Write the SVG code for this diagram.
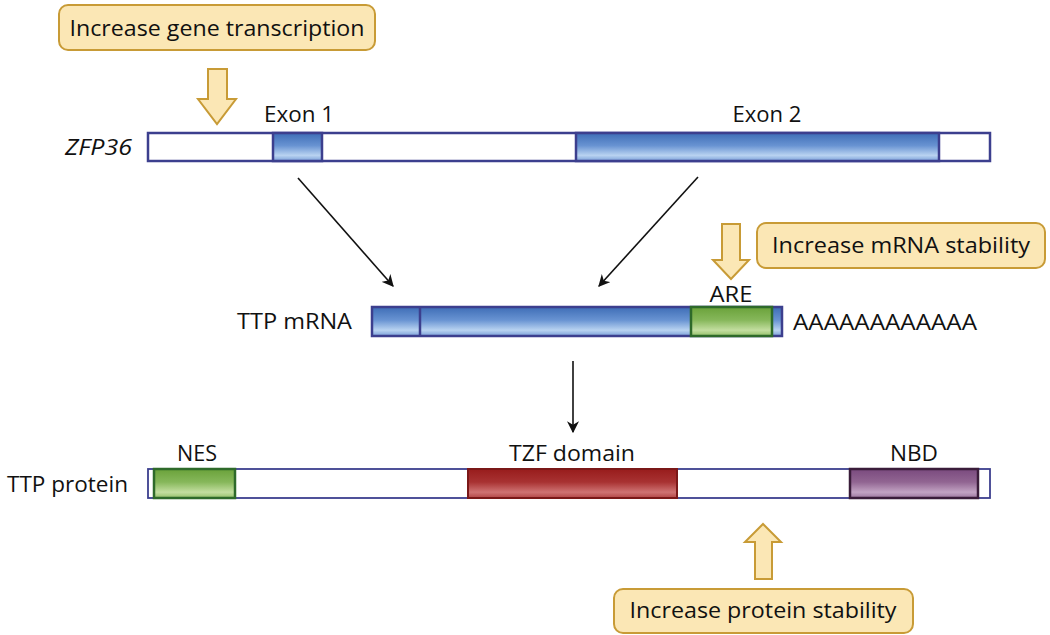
<svg xmlns="http://www.w3.org/2000/svg" width="1050" height="635" viewBox="0 0 1050 635">
<defs>
<linearGradient id="gBlue" x1="0" y1="0" x2="0" y2="1">
<stop offset="0" stop-color="#3e6db6"/><stop offset="0.45" stop-color="#6893d2"/><stop offset="0.8" stop-color="#b9d3f1"/><stop offset="1" stop-color="#7aa0d8"/>
</linearGradient>
<linearGradient id="gGreen" x1="0" y1="0" x2="0" y2="1">
<stop offset="0" stop-color="#6aa23a"/><stop offset="0.45" stop-color="#86b75a"/><stop offset="0.8" stop-color="#c3dea0"/><stop offset="1" stop-color="#94c06a"/>
</linearGradient>
<linearGradient id="gRed" x1="0" y1="0" x2="0" y2="1">
<stop offset="0" stop-color="#981c1c"/><stop offset="0.45" stop-color="#a83232"/><stop offset="0.8" stop-color="#cf7373"/><stop offset="1" stop-color="#b24646"/>
</linearGradient>
<linearGradient id="gPurple" x1="0" y1="0" x2="0" y2="1">
<stop offset="0" stop-color="#7a4a7e"/><stop offset="0.45" stop-color="#916592"/><stop offset="0.8" stop-color="#c2a3c3"/><stop offset="1" stop-color="#9c769e"/>
</linearGradient>
<marker id="ah" viewBox="0 0 10 10" refX="9" refY="5" markerWidth="12" markerHeight="12" markerUnits="userSpaceOnUse" orient="auto">
<path d="M0,0 L10,5 L0,10 L3,5 Z" fill="#111"/>
</marker>
<style>
.t{font-family:"Open Sans","Noto Sans","Liberation Sans",sans-serif;font-size:21.5px;fill:#111}
.bt{font-family:"Open Sans","Noto Sans","Liberation Sans",sans-serif;font-size:22.5px;fill:#111}
.box{fill:#fbe7b5;stroke:#c89b36;stroke-width:2}
.barr{fill:#fbe7b5;stroke:#c89b36;stroke-width:2;stroke-linejoin:miter}
.bar{fill:#fff;stroke:#3c3f8e;stroke-width:2.5}
.pbar{fill:#fff;stroke:#3c3f8e;stroke-width:1.8}
.ex{fill:url(#gBlue);stroke:#3c3f8e;stroke-width:2.5}
.gr{fill:url(#gGreen);stroke:#2e6a2a;stroke-width:2.5}
.rd{fill:url(#gRed);stroke:#7a1818;stroke-width:2}
.pu{fill:url(#gPurple);stroke:#3a1c3a;stroke-width:2.5}
.con{stroke:#111;stroke-width:1.6;fill:none}
</style>
</defs>

<g id="box-transcription">
<rect class="box" x="59" y="5" width="316" height="45" rx="9"/>
<text class="bt" x="217" y="36" text-anchor="middle" textLength="295" lengthAdjust="spacingAndGlyphs">Increase gene transcription</text>
</g>
<g id="arrow-transcription">
<path class="barr" d="M208,69 L227,69 L227,99 L236,99 L217,124 L198,99 L208,99 Z"/>
</g>

<g id="zfp36">
<text class="t" x="65" y="155" font-style="italic" textLength="67" lengthAdjust="spacingAndGlyphs">ZFP36</text>
<rect class="bar" x="148" y="133" width="842" height="28"/>
<rect class="ex" x="273" y="133" width="49" height="28"/>
<rect class="ex" x="576" y="133" width="363" height="28"/>
<text class="t" x="299" y="122" text-anchor="middle" textLength="70" lengthAdjust="spacingAndGlyphs">Exon 1</text>
<text class="t" x="767" y="122" text-anchor="middle" textLength="69" lengthAdjust="spacingAndGlyphs">Exon 2</text>
</g>

<g id="box-mrna">
<rect class="box" x="757" y="223" width="288" height="45" rx="9"/>
<text class="bt" x="901" y="253" text-anchor="middle" textLength="258" lengthAdjust="spacingAndGlyphs">Increase mRNA stability</text>
</g>
<g id="arrow-mrna">
<path class="barr" d="M722,224 L740,224 L740,260 L749,260 L731,279 L713,260 L722,260 Z"/>
</g>

<g id="mrna">
<text class="t" x="237" y="329" textLength="115" lengthAdjust="spacingAndGlyphs">TTP mRNA</text>
<rect class="ex" x="372" y="307" width="410" height="29"/>
<line x1="420" y1="307" x2="420" y2="336" stroke="#3c3f8e" stroke-width="2.5"/>
<rect class="gr" x="691" y="307" width="81" height="29"/>
<text class="t" x="731" y="302" text-anchor="middle" textLength="43" lengthAdjust="spacingAndGlyphs">ARE</text>
<text class="t" x="793" y="330" textLength="184" lengthAdjust="spacingAndGlyphs">AAAAAAAAAAAA</text>
</g>

<g id="protein">
<text class="t" x="7" y="492" textLength="121" lengthAdjust="spacingAndGlyphs">TTP protein</text>
<rect class="pbar" x="148" y="469" width="842" height="29"/>
<rect class="gr" x="154" y="469" width="81" height="29"/>
<rect class="rd" x="468" y="469" width="209" height="29"/>
<rect class="pu" x="850" y="469" width="128" height="29"/>
<text class="t" x="197" y="461" text-anchor="middle" textLength="40" lengthAdjust="spacingAndGlyphs">NES</text>
<text class="t" x="572" y="461" text-anchor="middle" textLength="126" lengthAdjust="spacingAndGlyphs">TZF domain</text>
<text class="t" x="914" y="461" text-anchor="middle" textLength="48" lengthAdjust="spacingAndGlyphs">NBD</text>
</g>

<g id="arrow-protein">
<path class="barr" d="M755,579 L772,579 L772,542 L781,542 L763,524 L745,542 L755,542 Z"/>
</g>
<g id="box-protein">
<rect class="box" x="614" y="589" width="299" height="44" rx="9"/>
<text class="bt" x="763" y="618" text-anchor="middle" textLength="267" lengthAdjust="spacingAndGlyphs">Increase protein stability</text>
</g>

<g id="connectors">
<line class="con" x1="298" y1="178" x2="393" y2="286" marker-end="url(#ah)"/>
<line class="con" x1="698" y1="177" x2="599" y2="286" marker-end="url(#ah)"/>
<line class="con" x1="573" y1="361" x2="573" y2="432" marker-end="url(#ah)"/>
</g>
</svg>
